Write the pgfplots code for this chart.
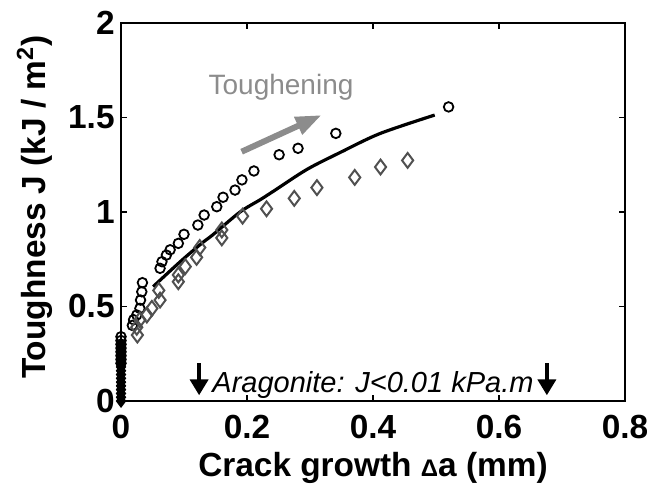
\documentclass[border=0pt]{standalone}
\usepackage{fontspec}
\setmainfont{Liberation Sans}
\usepackage{pgfplots}
\pgfplotsset{compat=1.18}
\usetikzlibrary{arrows.meta}
\definecolor{dgray}{RGB}{80,80,80}
\definecolor{agray}{RGB}{140,140,140}
\begin{document}
\begin{tikzpicture}
\begin{axis}[
  at={(0,0)}, anchor=south west,
  scale only axis, width=252pt, height=189pt,
  xmin=0, xmax=0.8, ymin=0, ymax=2,
  xtick={0,0.2,0.4,0.6,0.8}, xticklabels={0,0.2,0.4,0.6,0.8},
  ytick={0,0.5,1,1.5,2}, yticklabels={0,0.5,1,1.5,2},
  tick align=inside, major tick length=3pt,
  tick style={black, line width=0.8pt},
  axis line style={black, line width=1.3pt},
  ticklabel style={font=\fontsize{16.7}{19}\selectfont\bfseries},
  xticklabel style={inner sep=0pt, anchor=north, yshift=-7pt},
  yticklabel style={inner sep=0pt, anchor=east, xshift=-3pt},
  xlabel={Crack growth {\fontsize{12}{14}\selectfont Δ}a (mm)},
  ylabel={Toughness J (kJ / m\textsuperscript{2})},
  label style={font=\fontsize{16.7}{19}\selectfont\bfseries},
  xlabel style={at={(axis description cs:0.5,-0.178)}, anchor=center},
  ylabel style={at={(axis description cs:-0.171,0.513)}, anchor=center, rotate=0},
  clip=false,
]
% column at zero
\addplot[only marks, mark=diamond*, mark size=3pt, mark options={line width=0.6pt, black, fill=black}] coordinates {
(0,0) (0,0.02) (0,0.04) (0,0.06) (0,0.08) (0,0.10) (0,0.12) (0,0.14) (0,0.16) (0,0.18)
(0,0.20) (0,0.22) (0,0.24) (0,0.26) (0,0.28) (0,0.30)
};
% circles
\addplot[only marks, mark=o, mark size=2.4pt, mark options={line width=0.9pt, black}] coordinates {
(0,0.20) (0,0.22) (0,0.24) (0,0.26) (0,0.28) (0,0.30) (0,0.32) (0,0.34)
(0.018,0.40) (0.020,0.43) (0.025,0.455) (0.030,0.49) (0.031,0.534) (0.033,0.578) (0.034,0.626)
(0.062,0.702) (0.065,0.737) (0.072,0.772) (0.078,0.80) (0.091,0.834) (0.100,0.882)
(0.122,0.931) (0.132,0.984) (0.152,1.028) (0.162,1.078) (0.181,1.116) (0.192,1.170)
(0.211,1.217) (0.251,1.303) (0.281,1.337) (0.341,1.416) (0.520,1.556)
};
% diamonds
\addplot[only marks, mark=diamond, mark size=3.7pt, mark options={line width=1pt, dgray}] coordinates {
(0.026,0.349) (0.025,0.39) (0.030,0.43) (0.041,0.455) (0.049,0.49) (0.062,0.534) (0.060,0.585)
(0.091,0.631) (0.091,0.667) (0.102,0.711) (0.120,0.76) (0.125,0.812) (0.160,0.863) (0.160,0.905)
(0.193,0.978) (0.231,1.017) (0.275,1.072) (0.311,1.129) (0.371,1.183) (0.412,1.238) (0.455,1.273)
};
% fit line
\addplot[black, line width=1.6pt, smooth] coordinates {
(0.051,0.605) (0.094,0.737) (0.128,0.834) (0.146,0.88) (0.189,1.0) (0.221,1.065)
(0.242,1.11) (0.295,1.225) (0.348,1.315) (0.411,1.415) (0.498,1.513)
};
\draw[agray, line width=3pt, -{Triangle[length=13pt,width=9pt]}] (axis cs:0.1915,1.319) -- (axis cs:0.3186,1.513);
\node[agray, font=\fontsize{14}{16}\selectfont] at (axis cs:0.254,1.661) {Toughening};
\draw[black, line width=2.3pt, -{Triangle[length=8pt,width=9pt]}] (axis cs:0.124,0.201) -- (axis cs:0.124,0.030);
\draw[black, line width=2.3pt, -{Triangle[length=8pt,width=9pt]}] (axis cs:0.676,0.201) -- (axis cs:0.676,0.030);
\node[black, font=\fontsize{14.5}{16}\selectfont\itshape] at (axis cs:0.40,0.085) {Aragonite: J<0.01 kPa.m};
\end{axis}
\pgfresetboundingbox
\path[use as bounding box] (-60.5pt,-42.5pt) rectangle (263pt,200.5pt);
\end{tikzpicture}
\end{document}
